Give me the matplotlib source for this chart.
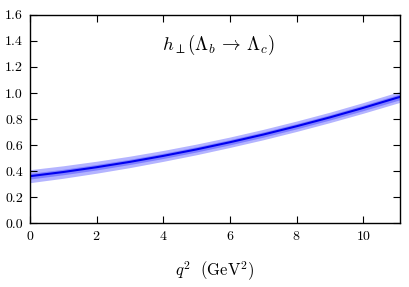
import numpy as np
import matplotlib
matplotlib.use('Agg')
import matplotlib.pyplot as plt

plt.rcParams['font.family'] = 'serif'
plt.rcParams['font.serif'] = ['cmr10']
plt.rcParams['mathtext.fontset'] = 'cm'
plt.rcParams['axes.formatter.use_mathtext'] = True

# form factor values
q2 = [0, 1, 2, 3, 4, 5, 6, 7, 8, 9, 10, 11, 11.11]
h_perp = [0.360, 0.392, 0.429, 0.470, 0.516, 0.566, 0.621, 0.680, 0.744, 0.812, 0.885, 0.962, 0.970]
err_inner = [0.022, 0.021, 0.021, 0.020, 0.020, 0.020, 0.020, 0.020, 0.020, 0.020, 0.021, 0.022, 0.022]
err_outer = [0.050, 0.048, 0.046, 0.044, 0.042, 0.041, 0.040, 0.040, 0.040, 0.040, 0.041, 0.042, 0.042]

q2 = np.array(q2)
h_perp = np.array(h_perp)
err_inner = np.array(err_inner)
err_outer = np.array(err_outer)

fig = plt.figure(figsize=(4.1, 2.87), dpi=100)
ax = fig.add_axes([0.073, 0.223, 0.903, 0.725])

ax.fill_between(q2, h_perp - err_outer, h_perp + err_outer, color='#b4b4ff', lw=0)
ax.fill_between(q2, h_perp - err_inner, h_perp + err_inner, color='#8080ff', lw=0)
ax.plot(q2, h_perp, color='#0000ee', lw=1.5)

ax.set_xlim(0, 11.11)
ax.set_ylim(0, 1.6)
ax.set_xticks([0, 2, 4, 6, 8, 10])
ax.set_yticks(np.arange(0, 1.61, 0.2))
ax.yaxis.set_major_formatter(matplotlib.ticker.FormatStrFormatter('%.1f'))
ax.tick_params(direction='in', top=True, right=True, length=5, width=0.8, labelsize=10, pad=5)
for s in ax.spines.values():
    s.set_linewidth(1.0)

ax.text(0.51, 0.856, r'$h_{\perp}(\Lambda_b \,\rightarrow\, \Lambda_c)$', transform=ax.transAxes,
        ha='center', va='center', fontsize=13.5)
ax.set_xlabel(r'$q^2\ \ (\mathrm{GeV}^2)$', fontsize=12, labelpad=12)

fig.savefig('out.png', dpi=100)
